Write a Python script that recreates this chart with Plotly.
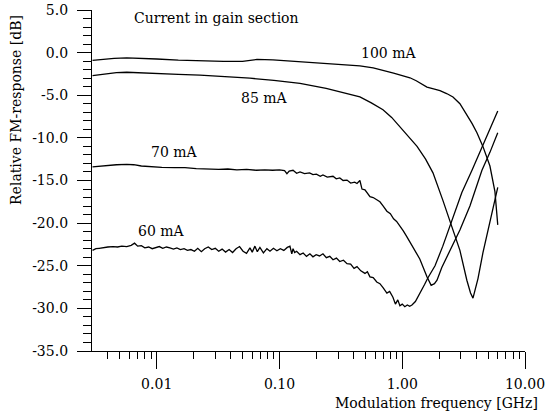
import plotly.graph_objects as go

# ---- data (frequency in GHz, response in dB) ----
f_100 = [0.003, 0.0036, 0.0045, 0.0057, 0.0075, 0.01, 0.015, 0.0225, 0.035, 0.05, 0.0656, 0.0885,
         0.12, 0.167, 0.23, 0.311, 0.452, 0.58, 0.697, 0.85, 1.0, 1.156, 1.3, 1.45, 1.59, 1.8,
         2.03, 2.3, 2.59, 2.95, 3.36, 3.7, 4.06, 4.54, 5.18, 5.69, 6.0]
db_100 = [-0.9, -0.78, -0.68, -0.62, -0.66, -0.75, -0.88, -0.97, -1.02, -1.02, -0.8, -0.86,
          -1.0, -1.13, -1.25, -1.38, -1.55, -1.8, -2.05, -2.4, -2.7, -2.95, -3.3, -3.75, -4.05, -4.25,
          -4.45, -4.8, -5.2, -6.0, -7.3, -8.3, -9.4, -11.0, -13.3, -16.3, -20.2]

f_85 = [0.003, 0.0038, 0.0047, 0.0057, 0.0075, 0.01, 0.015, 0.0225, 0.035, 0.0575, 0.09, 0.147,
        0.24, 0.33, 0.452, 0.56, 0.697, 0.82, 0.957, 1.13, 1.32, 1.55, 1.78, 2.14, 2.54, 2.95,
        3.36, 3.6, 3.77, 3.95, 4.14, 4.54, 5.0, 5.48, 6.0]
db_85 = [-2.7, -2.5, -2.35, -2.3, -2.35, -2.45, -2.55, -2.65, -2.8, -3.0, -3.25, -3.6,
         -4.2, -4.7, -5.2, -5.9, -6.7, -7.6, -8.7, -9.8, -11.0, -12.5, -14.1, -17.3, -20.4, -23.2,
         -26.7, -28.2, -28.8, -27.8, -26.5, -23.5, -20.8, -18.5, -15.8]

f_70 = [0.003, 0.0035, 0.004, 0.0047, 0.0057, 0.0065, 0.0075, 0.009, 0.011, 0.014, 0.017, 0.021,
        0.026, 0.032, 0.038, 0.045, 0.054, 0.065, 0.076, 0.088, 0.1, 0.11, 0.115, 0.12, 0.129,
        0.138, 0.147, 0.16, 0.176, 0.1874, 0.2, 0.215, 0.226, 0.245, 0.273, 0.29, 0.31, 0.33,
        0.355, 0.38, 0.41, 0.428, 0.452, 0.47, 0.497, 0.52, 0.546, 0.58, 0.62, 0.658, 0.7, 0.75,
        0.8, 0.85, 0.9, 0.957, 1.02, 1.08, 1.156, 1.23, 1.39, 1.59, 1.72, 1.83, 1.92, 2.1, 2.45,
        2.95, 3.56, 4.46, 5.18, 6.0]
db_70 = [-13.4, -13.3, -13.2, -13.15, -13.1, -13.15, -13.3, -13.4, -13.45, -13.5, -13.5, -13.6,
         -13.65, -13.7, -13.65, -13.75, -13.7, -13.8, -13.75, -13.8, -13.75, -13.85, -14.2, -13.9, -13.8,
         -14.15, -14.0, -14.2, -14.1, -14.3, -14.25, -14.5, -14.35, -14.6, -14.5, -14.8, -14.7, -15.0,
         -14.95, -15.3, -15.2, -15.35, -15.0, -16.0, -16.1, -16.5, -16.9, -17.0, -17.3, -17.5, -18.0, -18.6,
         -18.9, -19.5, -19.8, -20.3, -20.9, -21.5, -22.2, -22.8, -24.2, -26.3, -27.3, -27.1, -26.7, -25.2, -23.2,
         -20.8, -18.0, -13.8, -11.7, -9.4]

f_60 = [0.003, 0.0032, 0.0034, 0.0037, 0.004, 0.0044, 0.0048, 0.0052, 0.0057, 0.0062, 0.0066,
        0.007, 0.0075, 0.008, 0.0086, 0.0092, 0.0098, 0.0105, 0.0112, 0.012, 0.0128, 0.0137,
        0.0146, 0.0156, 0.0167, 0.0178, 0.019, 0.0203, 0.0216, 0.0231, 0.0246, 0.0263, 0.0281,
        0.03, 0.032, 0.0341, 0.0364, 0.0389, 0.0415, 0.0443, 0.0473, 0.0505, 0.0539, 0.0575,
        0.06, 0.0631, 0.066, 0.0693, 0.074, 0.079, 0.0837, 0.0893, 0.0953, 0.1017, 0.1085,
        0.1158, 0.1217, 0.126, 0.129, 0.133, 0.138, 0.147, 0.156, 0.166, 0.177, 0.1874, 0.199,
        0.212, 0.226, 0.241, 0.257, 0.273, 0.291, 0.31, 0.332, 0.355, 0.38, 0.405, 0.428, 0.46,
        0.497, 0.52, 0.546, 0.58, 0.62, 0.658, 0.7, 0.75, 0.79, 0.84, 0.88, 0.92, 0.957, 1.0,
        1.05, 1.1, 1.15, 1.2, 1.28, 1.39, 1.52, 1.62, 1.85, 2.14, 2.54, 3.06, 3.7, 4.72, 6.0]
db_60 = [-23.2, -23.0, -22.95, -22.85, -22.8, -22.75, -22.8, -22.7, -22.75, -22.6, -22.35,
         -22.7, -22.65, -22.9, -22.8, -23.0, -22.85, -22.75, -22.95, -22.8, -22.9, -23.05,
         -22.9, -23.1, -23.0, -23.2, -23.1, -23.3, -22.95, -23.35, -23.0, -22.8, -23.1,
         -22.95, -23.3, -23.05, -23.4, -23.1, -23.45, -23.0, -22.75, -23.3, -23.55, -22.9,
         -23.4, -22.7, -23.35, -22.85, -23.5, -23.0, -23.3, -22.95, -23.25, -23.0, -23.2,
         -22.85, -22.7, -23.6, -23.0, -23.45, -23.3, -23.7, -23.5, -23.9, -23.6, -23.95, -23.7,
         -23.85, -23.6, -24.05, -23.9, -24.3, -24.1, -24.5, -24.35, -24.75, -24.8, -25.3, -25.1, -25.6,
         -25.9, -25.7, -26.3, -26.4, -26.9, -27.1, -27.6, -28.2, -28.0, -28.7, -29.5, -29.0, -29.7, -29.5,
         -29.8, -29.6, -29.75, -29.6, -29.2, -28.3, -27.2, -26.4, -25.0, -22.7, -19.7, -16.4, -13.8, -10.3, -6.85]

x_tickvals = [0.01, 0.1, 1, 10]
x_ticktext = ["0.01", "0.10", "1.00", "10.00"]
x_minor = [0.004, 0.005, 0.006, 0.007, 0.008, 0.009,
           0.02, 0.03, 0.04, 0.05, 0.06, 0.07, 0.08, 0.09,
           0.2, 0.3, 0.4, 0.5, 0.6, 0.7, 0.8, 0.9,
           2, 3, 4, 5, 6, 7, 8, 9]
y_tickvals = [5, 0, -5, -10, -15, -20, -25, -30, -35]
y_ticktext = ["5.0", "0.0", "-5.0", "-10.0", "-15.0", "-20.0", "-25.0", "-30.0", "-35.0"]

FONT = "DejaVu Serif"
FS = 14

fig = go.Figure()
for f, d in [(f_100, db_100), (f_85, db_85), (f_70, db_70), (f_60, db_60)]:
    fig.add_trace(go.Scatter(x=f, y=d, mode="lines",
                             line=dict(color="black", width=1.3), showlegend=False))

ann = dict(showarrow=False, font=dict(family=FONT, size=FS, color="black"))
fig.add_annotation(x=-2.201, y=4.07, text="Current in gain section", xanchor="left", **ann)
fig.add_annotation(x=-0.108, y=-0.04, text="100 mA", **ann)
fig.add_annotation(x=-1.118, y=-5.31, text="85 mA", **ann)
fig.add_annotation(x=-1.851, y=-11.65, text="70 mA", **ann)
fig.add_annotation(x=-1.965, y=-20.9, text="60 mA", **ann)
fig.add_annotation(xref="paper", yref="paper", x=1.0346, y=-0.1525, xanchor="right",
                   yanchor="middle", text="Modulation frequency [GHz]", **ann)
fig.add_annotation(xref="paper", yref="paper", x=-0.1755, y=0.707, textangle=-90,
                   xanchor="center", yanchor="middle", text="Relative FM-response [dB]", **ann)

fig.update_xaxes(type="log", range=[-2.527, 1.0], showgrid=False, zeroline=False,
                 automargin=False, ticklabeloverflow="allow",
                 showline=True, linecolor="black", linewidth=1.3,
                 tickmode="array", tickvals=x_tickvals, ticktext=x_ticktext,
                 ticks="outside", ticklen=17, tickwidth=1.2, tickcolor="black",
                 ticklabelstandoff=3,
                 tickfont=dict(family=FONT, size=FS, color="black"),
                 minor=dict(tickmode="array", tickvals=x_minor, ticks="outside", ticklen=7,
                            tickwidth=1.2, tickcolor="black", showgrid=False))
fig.update_yaxes(range=[-35, 5], showgrid=False, zeroline=False,
                 automargin=False, ticklabeloverflow="allow",
                 showline=True, linecolor="black", linewidth=1.3,
                 tickmode="array", tickvals=y_tickvals, ticktext=y_ticktext,
                 ticks="outside", ticklen=14, tickwidth=1.2, tickcolor="black",
                 ticklabelstandoff=6,
                 tickfont=dict(family=FONT, size=FS, color="black"),
                 minor=dict(tickmode="linear", tick0=0, dtick=1, ticks="outside", ticklen=8,
                            tickwidth=1.2, tickcolor="black", showgrid=False))

fig.update_layout(width=546, height=417, margin=dict(l=92, r=21, t=10, b=66),
                  plot_bgcolor="white", paper_bgcolor="white",
                  font=dict(family=FONT, size=FS, color="black"))

# remove the default 8px page margin so the figure sits at the window's corner
fig.write_html("out.html", config={"displayModeBar": False},
               post_script="document.body.style.margin='0';")
